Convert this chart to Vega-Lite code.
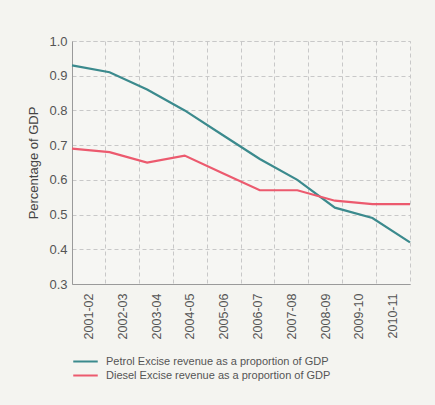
{
  "$schema": "https://vega.github.io/schema/vega-lite/v6.json",
  "autosize": {"type": "none"},
  "width": 338,
  "height": 243,
  "padding": {"left": 72, "top": 41, "right": 25, "bottom": 121},
  "background": "#f4f4f0",
  "config": {
    "view": {"stroke": "#c8c8c8", "strokeDash": [4, 3], "fill": "#f6f6f3"},
    "font": "Liberation Sans",
    "axis": {"labelFont": "Liberation Sans", "titleFont": "Liberation Sans", "labelColor": "#555555", "titleColor": "#444444"},
    "legend": {"labelFont": "Liberation Sans"}
  },
  "data": {
    "values": [
      {"year": "2001-02", "series": "Petrol Excise revenue as a proportion of GDP", "value": 0.93},
      {"year": "2002-03", "series": "Petrol Excise revenue as a proportion of GDP", "value": 0.91},
      {"year": "2003-04", "series": "Petrol Excise revenue as a proportion of GDP", "value": 0.86},
      {"year": "2004-05", "series": "Petrol Excise revenue as a proportion of GDP", "value": 0.80},
      {"year": "2005-06", "series": "Petrol Excise revenue as a proportion of GDP", "value": 0.73},
      {"year": "2006-07", "series": "Petrol Excise revenue as a proportion of GDP", "value": 0.66},
      {"year": "2007-08", "series": "Petrol Excise revenue as a proportion of GDP", "value": 0.60},
      {"year": "2008-09", "series": "Petrol Excise revenue as a proportion of GDP", "value": 0.52},
      {"year": "2009-10", "series": "Petrol Excise revenue as a proportion of GDP", "value": 0.49},
      {"year": "2010-11", "series": "Petrol Excise revenue as a proportion of GDP", "value": 0.42},
      {"year": "2001-02", "series": "Diesel Excise revenue as a proportion of GDP", "value": 0.69},
      {"year": "2002-03", "series": "Diesel Excise revenue as a proportion of GDP", "value": 0.68},
      {"year": "2003-04", "series": "Diesel Excise revenue as a proportion of GDP", "value": 0.65},
      {"year": "2004-05", "series": "Diesel Excise revenue as a proportion of GDP", "value": 0.67},
      {"year": "2005-06", "series": "Diesel Excise revenue as a proportion of GDP", "value": 0.62},
      {"year": "2006-07", "series": "Diesel Excise revenue as a proportion of GDP", "value": 0.57},
      {"year": "2007-08", "series": "Diesel Excise revenue as a proportion of GDP", "value": 0.57},
      {"year": "2008-09", "series": "Diesel Excise revenue as a proportion of GDP", "value": 0.54},
      {"year": "2009-10", "series": "Diesel Excise revenue as a proportion of GDP", "value": 0.53},
      {"year": "2010-11", "series": "Diesel Excise revenue as a proportion of GDP", "value": 0.53}
    ]
  },
  "encoding": {
    "y": {
      "field": "value", "type": "quantitative",
      "scale": {"domain": [0.3, 1.0], "nice": false, "zero": false},
      "axis": {
        "title": "Percentage of GDP", "titleFontSize": 13, "titleFontWeight": "normal", "titlePadding": 8,
        "labelFontSize": 13, "labelPadding": 5, "ticks": false, "tickCount": 20,
        "values": [0.3, 0.4, 0.5, 0.6, 0.7, 0.8, 0.9, 1.0],
        "labelOverlap": false, "labelFlush": false,
        "format": ".1f", "grid": true, "gridDash": [4, 3], "gridColor": "#c8c8c8", "domainColor": "#9a9a9a"
      }
    }
  },
  "layer": [
    {
      "mark": {"type": "tick", "opacity": 0},
      "encoding": {
        "x": {
          "field": "year", "type": "ordinal",
          "scale": {"type": "band", "paddingInner": 0, "paddingOuter": 0},
          "axis": {
            "title": null, "labelAngle": -90, "labelFontSize": 12.5, "labelPadding": 9,
            "ticks": false, "grid": true, "gridDash": [4, 3], "gridColor": "#c8c8c8",
            "bandPosition": 0, "domainColor": "#9a9a9a", "labelBaseline": "middle", "labelAlign": "right"
          }
        }
      }
    },
    {
      "mark": {"type": "line", "strokeWidth": 2.2},
      "encoding": {
        "x": {
          "field": "year", "type": "ordinal",
          "scale": {"type": "point", "padding": 0},
          "axis": null
        },
        "color": {
          "field": "series", "type": "nominal",
          "scale": {
            "domain": ["Petrol Excise revenue as a proportion of GDP", "Diesel Excise revenue as a proportion of GDP"],
            "range": ["#3b8a8d", "#ec5a6e"]
          },
          "legend": {
            "title": null, "orient": "bottom", "direction": "vertical", "offset": 16,
            "labelFontSize": 11, "labelColor": "#555555", "labelLimit": 0, "symbolType": "stroke", "symbolSize": 600,
            "symbolStrokeWidth": 2, "rowPadding": 1, "clipHeight": 13, "labelOffset": 7
          }
        }
      }
    }
  ],
  "resolve": {"scale": {"x": "independent"}}
}
